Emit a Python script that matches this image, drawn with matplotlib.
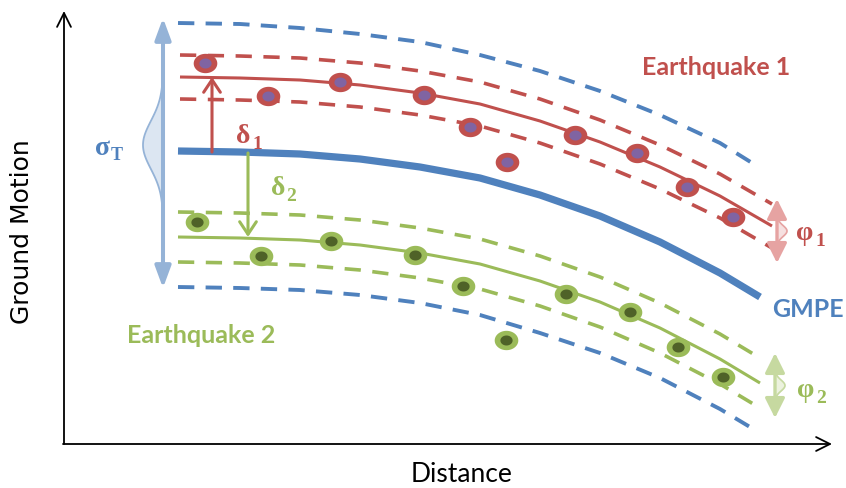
import numpy as np
import matplotlib
matplotlib.use("Agg")
import matplotlib.pyplot as plt
from matplotlib.path import Path

# ---------------- data (schematic units: x = distance, y measured downward; larger y = lower motion)
grid_x = [178, 240, 300, 360, 420, 480, 540, 600, 660, 720, 760]
gmpe_y = [151, 152, 154, 159, 167, 178, 195, 216, 242, 273, 297]

sigma_up_x = [178, 240, 300, 360, 420, 480, 540, 600, 660, 720, 757]
sigma_up_y = [23, 24, 28, 34, 42, 55, 71, 91, 115, 143, 166]
sigma_dn_x = [178, 240, 300, 360, 420, 480, 540, 600, 660, 720, 755]
sigma_dn_y = [287, 288, 290, 295, 303, 315, 333, 353, 378, 409, 430]

eq1_mean_x = [180, 240, 300, 360, 420, 480, 540, 600, 660, 720, 772]
eq1_mean_y = [77, 78, 80, 85, 93, 104, 121, 142, 167, 196, 226]
eq1_phi = 22

eq2_mean_x = [178, 240, 300, 360, 420, 480, 540, 600, 660, 720, 760]
eq2_mean_y = [237, 238, 240, 245, 253, 264, 281, 302, 328, 359, 383]
eq2_phi = 25

eq1_pts_x = [205, 268, 340, 424, 470, 507, 575, 637, 687, 733]
eq1_pts_y = [63, 96, 82, 95, 127, 162, 135, 153, 187, 217]
eq2_pts_x = [197, 261, 331, 415, 463, 506, 566, 630, 678, 723]
eq2_pts_y = [222, 256, 241, 255, 286, 340, 294, 312, 347, 377]

# ---------------- style
BLUE = "#4f81bd"
LBLUE = "#95b3d7"
RED = "#c0504d"
PURPLE = "#8064a2"
GREEN = "#9bbb59"
DGREEN = "#4f6228"
LRED = "#e6a3a2"
LGREEN = "#c6d9a0"

fig = plt.figure(figsize=(8.46, 4.88), dpi=100)
ax = fig.add_axes([0, 0, 1, 1])
ax.set_xlim(0, 846)
ax.set_ylim(488, 0)
ax.axis("off")

# axes arrows
ax.annotate("", xy=(64, 11), xytext=(64, 444),
            arrowprops=dict(arrowstyle="->,head_length=0.5,head_width=0.25",
                            lw=1.3, color="black", mutation_scale=20, shrinkA=0, shrinkB=0))
ax.annotate("", xy=(832, 444), xytext=(63, 444),
            arrowprops=dict(arrowstyle="->,head_length=0.5,head_width=0.25",
                            lw=1.3, color="black", mutation_scale=20, shrinkA=0, shrinkB=0))

# sigma bands
ax.plot(sigma_up_x, sigma_up_y, color=BLUE, lw=2.8, ls=(0, (4.2, 2.9)))
ax.plot(sigma_dn_x, sigma_dn_y, color=BLUE, lw=2.8, ls=(0, (4.2, 2.9)))

# earthquake 1
e1x = np.array(eq1_mean_x)
e1y = np.array(eq1_mean_y)
ax.plot(e1x, e1y, color=RED, lw=2.2, solid_capstyle="butt")
ax.plot(e1x, e1y - eq1_phi, color=RED, lw=2.6, ls=(0, (4.5, 3.2)))
ax.plot(e1x, e1y + eq1_phi, color=RED, lw=2.6, ls=(0, (4.5, 3.2)))

# earthquake 2
e2x = np.array(eq2_mean_x)
e2y = np.array(eq2_mean_y)
ax.plot(e2x, e2y, color=GREEN, lw=2.2, solid_capstyle="butt")
ax.plot(e2x, e2y - eq2_phi, color=GREEN, lw=2.6, ls=(0, (4.5, 3.2)))
ax.plot(e2x, e2y + eq2_phi, color=GREEN, lw=2.6, ls=(0, (4.5, 3.2)))

# GMPE
ax.plot(grid_x, gmpe_y, color=BLUE, lw=5.2, solid_capstyle="butt", solid_joinstyle="round", zorder=3)

# points (slightly elliptical rings)
t = np.linspace(0, 2 * np.pi, 60)
ell = Path(np.column_stack([np.cos(t), 0.82 * np.sin(t)]))
ax.plot(eq1_pts_x, eq1_pts_y, ls="none", marker=ell, ms=17, mfc=RED, mec="none", zorder=5)
ax.plot(eq1_pts_x, eq1_pts_y, ls="none", marker=ell, ms=8.8, mfc=PURPLE, mec="none", zorder=6)
ax.plot(eq2_pts_x, eq2_pts_y, ls="none", marker=ell, ms=17, mfc=GREEN, mec="none", zorder=5)
ax.plot(eq2_pts_x, eq2_pts_y, ls="none", marker=ell, ms=8.8, mfc=DGREEN, mec="none", zorder=6)

# delta arrows
ax.annotate("", xy=(212, 77), xytext=(212, 152),
            arrowprops=dict(arrowstyle="->,head_length=0.45,head_width=0.3",
                            lw=2.2, color=RED, mutation_scale=20, shrinkA=0, shrinkB=0), zorder=4)
ax.annotate("", xy=(248, 237), xytext=(248, 153),
            arrowprops=dict(arrowstyle="->,head_length=0.45,head_width=0.3",
                            lw=2.2, color=GREEN, mutation_scale=20, shrinkA=0, shrinkB=0), zorder=4)

# sigma_T double arrow with bell
ax.annotate("", xy=(163, 18), xytext=(163, 288),
            arrowprops=dict(arrowstyle="<|-|>,head_length=0.65,head_width=0.24",
                            lw=2.9, color=LBLUE, mutation_scale=20, shrinkA=0, shrinkB=0))
yy = np.linspace(68, 225, 90)
bell = 20 * np.exp(-0.5 * ((yy - 145) / 24.0) ** 2)
ax.fill_betweenx(yy, 163 - bell, 163, color="#dce6f2", lw=0)
ax.plot(163 - bell, yy, color=LBLUE, lw=1.3)


def phi_arrow(x, y0, y1, col, fill):
    ax.annotate("", xy=(x, y0), xytext=(x, y1),
                arrowprops=dict(arrowstyle="<|-|>,head_length=0.6,head_width=0.3",
                                lw=2.4, color=col, mutation_scale=20, shrinkA=0, shrinkB=0))
    ym = 0.5 * (y0 + y1)
    yb = np.linspace(ym - 17, ym + 17, 40)
    b = 10 * np.exp(-0.5 * ((yb - ym) / 5.5) ** 2)
    ax.fill_betweenx(yb, x, x + b, color=fill, lw=0)
    ax.plot(x + b, yb, color=col, lw=1.2)


phi_arrow(777, 199, 263, LRED, "#f6e0e0")
phi_arrow(775, 353, 418, LGREEN, "#ecf2de")

# ---------------- text
serif = "Liberation Serif"
ax.text(95, 155, "σ", color=BLUE, fontsize=20, fontweight="bold", family=serif)
ax.text(111, 160, "T", color=BLUE, fontsize=13, fontweight="bold", family=serif)
ax.text(236, 143, "δ", color=RED, fontsize=20, fontweight="bold", family=serif)
ax.text(252, 149, "1", color=RED, fontsize=14, fontweight="bold", family=serif)
ax.text(271, 195, "δ", color=GREEN, fontsize=20, fontweight="bold", family=serif)
ax.text(286, 201, "2", color=GREEN, fontsize=14, fontweight="bold", family=serif)
ax.text(796, 240, "φ", color=RED, fontsize=20, fontweight="bold", family=serif)
ax.text(815, 246, "1", color=RED, fontsize=14, fontweight="bold", family=serif)
ax.text(797, 397, "φ", color=GREEN, fontsize=20, fontweight="bold", family=serif)
ax.text(816, 403, "2", color=GREEN, fontsize=14, fontweight="bold", family=serif)

ax.text(642, 75, "Earthquake 1", color=RED, fontsize=18, fontweight="bold", family="Lato")
ax.text(127, 343, "Earthquake 2", color=GREEN, fontsize=18, fontweight="bold", family="Lato")
ax.text(772, 317, "GMPE", color=BLUE, fontsize=18, fontweight="bold", family="Lato")
ax.text(462, 482, "Distance", color="black", fontsize=19, family="Lato", ha="center")
ax.text(22, 232, "Ground Motion", color="black", fontsize=18, family="DejaVu Sans",
        rotation=90, ha="center", va="center")

fig.savefig("out.png", dpi=100)
